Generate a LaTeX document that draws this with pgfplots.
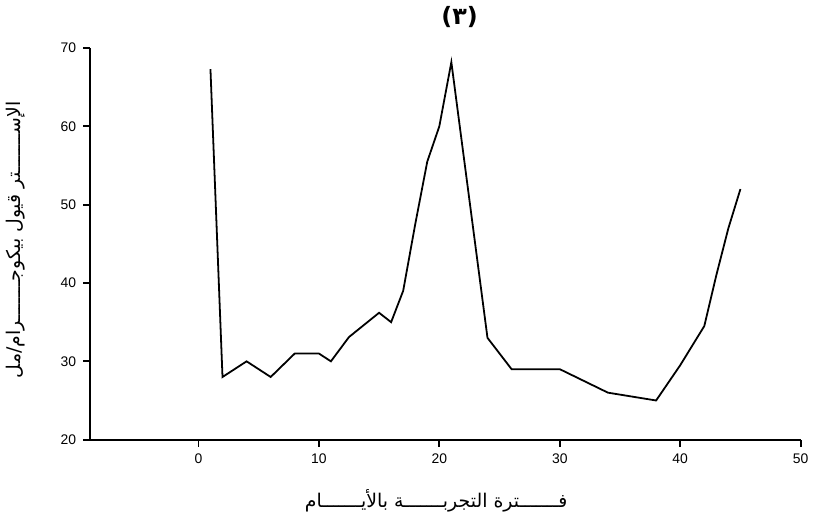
\documentclass[border=0pt]{standalone}
\usepackage{fontspec}
\setmainfont{Liberation Sans}
\newfontfamily\arabicfont[Script=Arabic]{DejaVu Sans}
\TeXXeTstate=1
\usepackage{pgfplots}
\pgfplotsset{compat=1.18}

\begin{document}
\begin{tikzpicture}
\begin{axis}[
  scale only axis,
  width=357.5pt, height=197pt,
  xmin=-9, xmax=50, ymin=20, ymax=70,
  axis lines=left,
  axis line style={-, line width=0.9pt},
  xtick={0,10,...,50}, ytick={20,30,...,70},
  tick align=outside,
  major tick length=3.5pt,
  tick style={line width=0.9pt, black},
  tick label style={font=\fontsize{7}{8}\selectfont},
  /pgf/number format/assume math mode=true,
  xlabel={\arabicfont\beginR فـــــــترة التجربـــــــة بالأيـــــــام\endR},
  xlabel style={at={(axis description cs:0.487,0)}, anchor=center, yshift=-31pt, inner sep=7pt, font=\fontsize{9.5}{10}\selectfont},
  ylabel={\arabicfont\beginR الإســـــــتر قيول بيكوجـــــــرام/مل\endR},
  ylabel style={at={(axis description cs:-0.104,0.51)}, anchor=center, font=\fontsize{9.5}{10}\selectfont},
  title={\arabicfont\bfseries (٣)},
  title style={at={(axis description cs:0.52,1)}, anchor=center, yshift=9.5pt, font=\fontsize{12}{14}\selectfont},
]
\addplot[black, line width=0.9pt, sharp plot] coordinates {
  (1,67.3) (2,28) (4,30) (6,28) (8,31) (10,31) (11,30) (12.5,33.1)
  (15,36.2) (16,35) (17,39) (18,47.5) (19,55.5) (20,60) (21,68.2)
  (24,33) (26,29) (30,29) (34,26) (38,25) (40,29.5) (42,34.5)
  (43,41) (44,47) (45,52)
};
\end{axis}
\end{tikzpicture}
\end{document}
